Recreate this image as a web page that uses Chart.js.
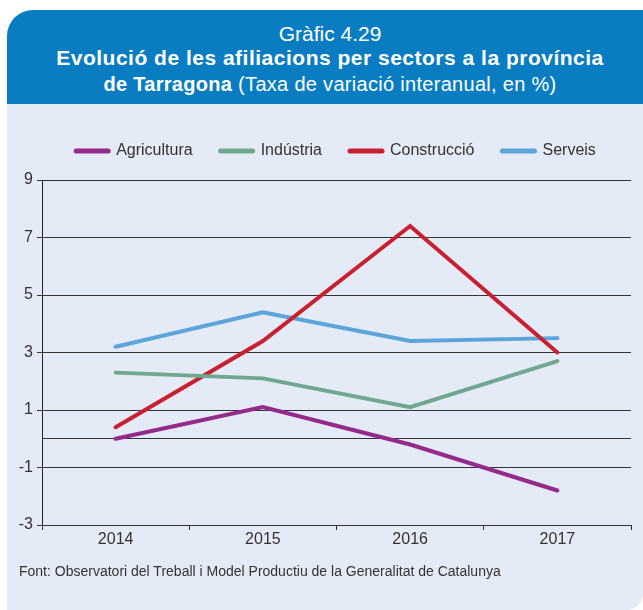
<!DOCTYPE html>
<html lang="ca">
<head>
<meta charset="utf-8">
<title>Gràfic 4.29</title>
<script src="https://cdn.jsdelivr.net/npm/chart.js@4.4.1/dist/chart.umd.min.js"></script>
<style>
    html, body { margin: 0; padding: 0; background: #fff; }
    body { width: 643px; height: 610px; position: relative; overflow: hidden; font-family: 'Liberation Sans', Arial, sans-serif; }
    .header { position: absolute; left: 7px; top: 10px; width: 636px; height: 94px; background: #0a7dc2; border-top-left-radius: 26px; }
    .panel { position: absolute; left: 7px; top: 104px; width: 636px; height: 506px; background: #e4eaf6; border-bottom-right-radius: 16px; }
    .tline { position: absolute; left: 12px; width: 636px; text-align: center; color: #fff; line-height: 24px; white-space: nowrap; }
    .t1 { top: 22px; font-size: 21px; font-weight: 300; }
    .t2 { top: 46px; font-size: 21px; font-weight: bold; letter-spacing: 0.5px; }
    .t3 { top: 72px; font-size: 20px; letter-spacing: 0.3px; }
    .t3 b { font-weight: bold; }
    .source { position: absolute; left: 19px; top: 563px; font-size: 14px; line-height: 16px; color: #333; white-space: nowrap; }
    #chart-wrap { position: absolute; left: 0; top: 105px; width: 643px; height: 460px; }
</style>
</head>
<body>
<div class="header"></div>
<div class="panel"></div>
<div class="tline t1">Gràfic 4.29</div>
<div class="tline t2">Evolució de les afiliacions per sectors a la província</div>
<div class="tline t3"><b>de Tarragona</b> (Taxa de variació interanual, en %)</div>
<div id="chart-wrap"><canvas id="affiliations-chart"></canvas></div>
<div class="source">Font: Observatori del Treball i Model Productiu de la Generalitat de Catalunya</div>

<script>
// Data
const years = ['2014', '2015', '2016', '2017'];
const agricultura = [0.0, 1.1, -0.2, -1.8];
const industria = [2.3, 2.1, 1.1, 2.7];
const construccio = [0.4, 3.4, 7.4, 3.0];
const serveis = [3.2, 4.4, 3.4, 3.5];
const yTickValues = [-3, -1, 1, 3, 5, 7, 9];
const zeroLine = 0;

const fontFamily = "'Liberation Sans Narrow', 'Liberation Sans', Arial, sans-serif";
const textColor = '#333';
const gridColor = '#333';

function makeDataset(label, data, color) {
    return {
        label: label,
        data: data,
        borderColor: color,
        backgroundColor: color,
        borderWidth: 4,
        borderCapStyle: 'round',
        borderJoinStyle: 'miter',
        pointRadius: 0,
        pointHoverRadius: 0,
        tension: 0,
        fill: false
    };
}

// Fix legend height and centre the legend row over the plot
const legendLayout = {
    id: 'legendLayout',
    beforeInit(chart) {
        const legend = chart.legend;
        if (!legend) return;
        const origFit = legend.fit;
        legend.fit = function() {
            origFit.call(this);
            this.height = 65;
        };
    },
    afterLayout(chart) {
        const legend = chart.legend;
        if (!legend) return;
        const dx = 336 - (legend.left + legend.right) / 2;
        legend.left += dx;
        legend.right += dx;
    }
};

const ctx = document.getElementById('affiliations-chart').getContext('2d');

new Chart(ctx, {
    type: 'line',
    data: {
        labels: years,
        datasets: [
            makeDataset('Agricultura', agricultura, '#932a8c'),
            makeDataset('Indústria', industria, '#6fa88f'),
            makeDataset('Construcció', construccio, '#c8202f'),
            makeDataset('Serveis', serveis, '#5ba5da')
        ]
    },
    options: {
        responsive: true,
        maintainAspectRatio: false,
        animation: false,
        layout: {
            padding: { top: 10, left: 4, right: 12, bottom: 0 }
        },
        scales: {
            x: {
                type: 'category',
                offset: true,
                grid: {
                    offset: true,
                    drawOnChartArea: true,
                    color: ctx => ctx.index === years.length ? gridColor : 'transparent',
                    tickColor: gridColor,
                    tickLength: 5
                },
                border: { display: true, color: gridColor, width: 1 },
                ticks: {
                    color: textColor,
                    padding: 0,
                    maxRotation: 0,
                    font: { family: fontFamily, size: 16 }
                },
                afterFit: scale => { scale.height = 40; }
            },
            y: {
                min: -3,
                max: 9,
                afterBuildTicks: scale => {
                    const values = yTickValues.concat([zeroLine]).sort((a, b) => a - b);
                    scale.ticks = values.map(v => ({ value: v }));
                },
                grid: {
                    color: gridColor,
                    tickColor: ctx => ctx.tick && ctx.tick.value === zeroLine ? 'transparent' : gridColor,
                    tickLength: 5
                },
                border: { display: true, color: '#222', width: 1 },
                ticks: {
                    color: textColor,
                    padding: 4,
                    font: { family: fontFamily, size: 16 },
                    callback: value => value === zeroLine ? '' : value
                },
                afterFit: scale => { scale.width = 38; }
            }
        },
        plugins: {
            legend: {
                display: true,
                position: 'top',
                align: 'center',
                labels: {
                    color: textColor,
                    font: { family: fontFamily, size: 16 },
                    usePointStyle: true,
                    pointStyle: 'line',
                    pointStyleWidth: 32,
                    padding: 28,
                    generateLabels: chart => {
                        const items = Chart.defaults.plugins.legend.labels.generateLabels(chart);
                        return items.map(item => Object.assign(item, { lineWidth: 5, lineCap: 'round' }));
                    }
                }
            },
            tooltip: { enabled: false }
        }
    },
    plugins: [legendLayout]
});
</script>
</body>
</html>
